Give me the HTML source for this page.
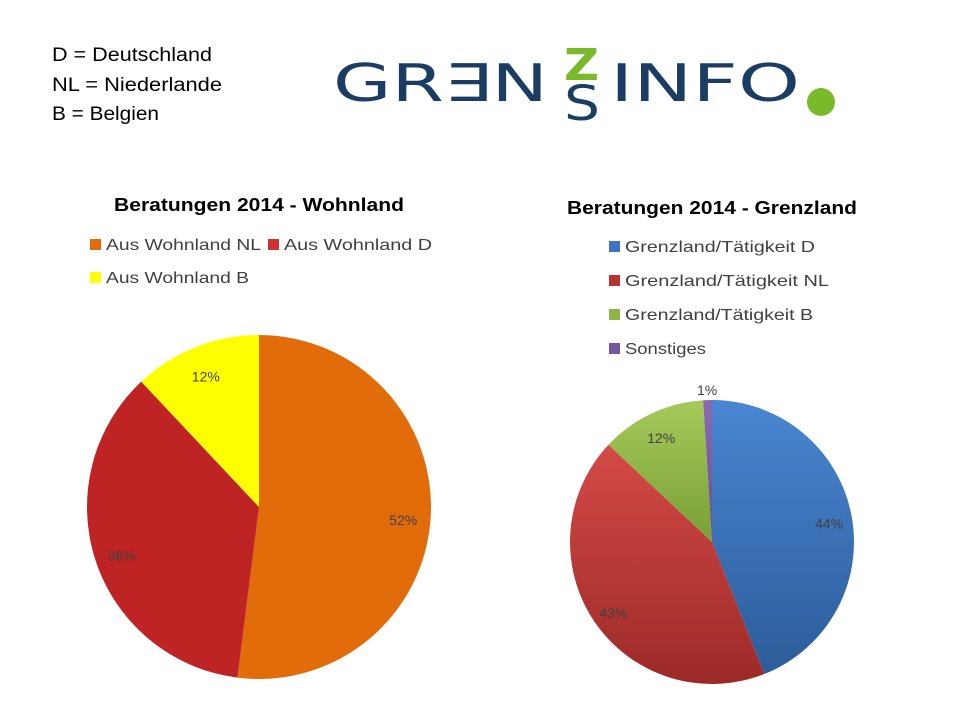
<!DOCTYPE html>
<html><head><meta charset="utf-8"><style>
html,body{margin:0;padding:0;background:#fff;}
svg{display:block;font-family:"Liberation Sans",sans-serif;}
</style></head><body>
<svg width="960" height="720" viewBox="0 0 960 720">
<defs>
<linearGradient id="gBlue" x1="0" y1="0" x2="0" y2="1"><stop offset="0" stop-color="#4a86d2"/><stop offset="1" stop-color="#2c5c99"/></linearGradient>
<linearGradient id="gRed" x1="0" y1="0" x2="0" y2="1"><stop offset="0" stop-color="#d44a46"/><stop offset="1" stop-color="#9c2a28"/></linearGradient>
<linearGradient id="gGreen" x1="0" y1="0" x2="0" y2="1"><stop offset="0" stop-color="#a6c95a"/><stop offset="1" stop-color="#78a034"/></linearGradient>
<linearGradient id="gPurple" x1="0" y1="0" x2="0" y2="1"><stop offset="0" stop-color="#8a6bb0"/><stop offset="1" stop-color="#6a4e90"/></linearGradient>
</defs>
<g font-size="19" fill="#000">
<text x="52" y="61" textLength="160" lengthAdjust="spacingAndGlyphs">D = Deutschland</text>
<text x="52" y="91" textLength="170" lengthAdjust="spacingAndGlyphs">NL = Niederlande</text>
<text x="52" y="120" textLength="107" lengthAdjust="spacingAndGlyphs">B = Belgien</text>
</g>
<g font-family="'DejaVu Sans','Liberation Sans',sans-serif">
<text x="333" y="101" font-size="52" fill="#1b3d63" textLength="215" lengthAdjust="spacingAndGlyphs">GR∃N</text>
<text x="564" y="80" font-size="44" font-weight="bold" fill="#7ab929" textLength="35" lengthAdjust="spacingAndGlyphs">Z</text>
<text x="564" y="120" font-size="48" fill="#1b3d63" textLength="36" lengthAdjust="spacingAndGlyphs">S</text>
<text x="610" y="101" font-size="52" fill="#1b3d63" textLength="190" lengthAdjust="spacingAndGlyphs">INFO</text>
<circle cx="821" cy="102" r="14" fill="#7ab929"/>
</g>
<g id="chart1">
<text x="259" y="211" text-anchor="middle" font-size="18" font-weight="bold" textLength="290" lengthAdjust="spacingAndGlyphs">Beratungen 2014 - Wohnland</text>
</g>
<g id="chart2">
<text x="712" y="214" text-anchor="middle" font-size="18" font-weight="bold" textLength="290" lengthAdjust="spacingAndGlyphs">Beratungen 2014 - Grenzland</text>
</g>
</svg>
<script>
const NS="http://www.w3.org/2000/svg";
const wohnCats=["Aus Wohnland NL","Aus Wohnland D","Aus Wohnland B"];
const wohnVals=[52,36,12];
const wohnLabels=["52%","36%","12%"];
const grenzCats=["Grenzland/Tätigkeit D","Grenzland/Tätigkeit NL","Grenzland/Tätigkeit B","Sonstiges"];
const grenzVals=[44,43,12,1];
const grenzLabels=["44%","43%","12%","1%"];
function el(t,a){const e=document.createElementNS(NS,t);for(const k in a)e.setAttribute(k,a[k]);return e;}
function drawPie(g,vals,labels,cx,cy,r,fills,name){
  const tot=vals.reduce((a,b)=>a+b,0);let a0=0;
  vals.forEach((v,i)=>{
    const a1=a0+v/tot*2*Math.PI;
    const x0=cx+r*Math.sin(a0),y0=cy-r*Math.cos(a0),x1=cx+r*Math.sin(a1),y1=cy-r*Math.cos(a1);
    const p=el("path",{d:`M${cx},${cy}L${x0},${y0}A${r},${r} 0 ${a1-a0>Math.PI?1:0} 1 ${x1},${y1}Z`,fill:fills[i]});
    
    
    g.appendChild(p);
    const m=(a0+a1)/2;const f=v/tot<0.03?1.1:0.84;
    const t=el("text",{x:cx+f*r*Math.sin(m),y:cy-f*r*Math.cos(m)+9,"text-anchor":"middle","font-size":"14",fill:"#404040"});
    t.textContent=labels[i];
    
    
    g.appendChild(t);
    a0=a1;
  });
}
function legend(g,cats,fills,pos,name){
  cats.forEach((c,i)=>{
    const [x,y,w]=pos[i];
    const s=el("rect",{x:x,y:y-11,width:11,height:11,fill:fills[i]});
    
    
    g.appendChild(s);
    const t=el("text",{x:x+16,y:y,"font-size":"16",fill:"#404040",textLength:w,lengthAdjust:"spacingAndGlyphs"});
    t.textContent=c;
    
    
    g.appendChild(t);
  });
}
const g1=document.getElementById("chart1"),g2=document.getElementById("chart2");
drawPie(g1,wohnVals,wohnLabels,259,507,172,["#e36c0a","#be2424","#ffff00"],"wohnland");
legend(g1,wohnCats,["#e36c0a","#d03232","#ffff00"],[[90,250,155],[268,250,148],[90,283,143]],"wohnland");
drawPie(g2,grenzVals,grenzLabels,712,542,142,["url(#gBlue)","url(#gRed)","url(#gGreen)","url(#gPurple)"],"grenzland");
legend(g2,grenzCats,["#3d74c0","#b83432","#8db545","#7356a0"],[[609,252,190],[609,286,204],[609,320,188],[609,354,81]],"grenzland");
</script>
</body></html>
